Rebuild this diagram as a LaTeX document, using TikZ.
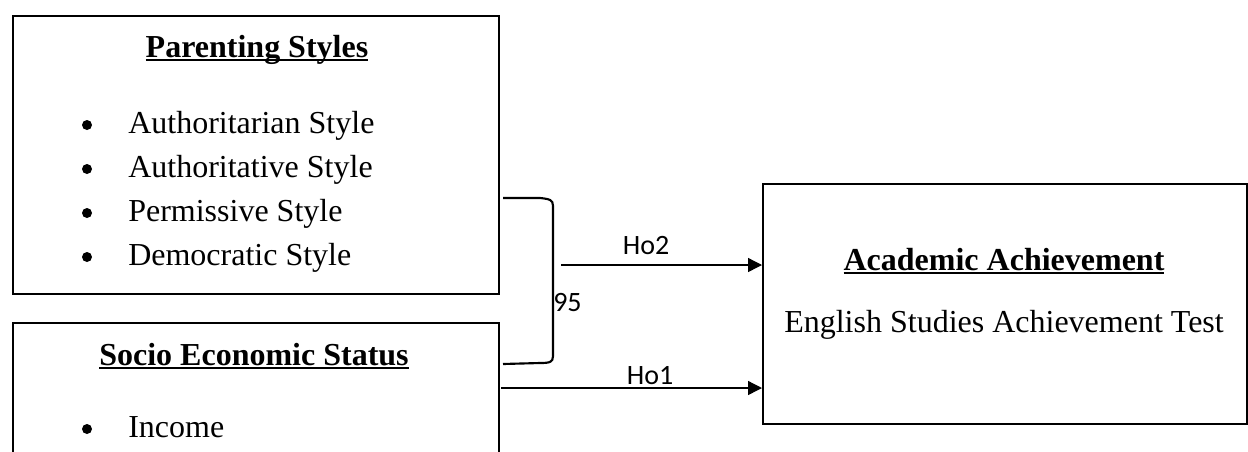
\documentclass[tikz,border=0pt]{standalone}
\usepackage{fontspec}
\setmainfont{Liberation Serif}
\newfontfamily\lblfont{Carlito}
\usetikzlibrary{arrows.meta}
\newcommand{\myul}[1]{\setbox0\hbox{#1}\rlap{\rule[-3pt]{\wd0}{1.3pt}}\box0}
\begin{document}
\begin{tikzpicture}[x=0.75pt,y=-0.75pt,
  boxline/.style={draw=black,line width=1.8pt},
  bigbox/.style={boxline,inner sep=0pt,anchor=north west},
  titletxt/.style={font=\fontsize{24}{28}\selectfont\bfseries,anchor=base,inner sep=0pt},
  itemtxt/.style={font=\fontsize{24}{28}\selectfont,anchor=base west,inner sep=0pt},
  bullet/.style={circle,fill=black,inner sep=0pt,minimum size=7.5pt},
  lbl/.style={font=\lblfont\fontsize{21}{25}\selectfont,anchor=base,inner sep=0pt},
  conn/.style={line width=1pt,-{Triangle[length=10.5pt,width=10.5pt]}},
  brace/.style={line width=1.6pt}]
\useasboundingbox (0,0) rectangle (1248,451);

% Parenting styles box
\node[bigbox,minimum width=364.5pt,minimum height=208.5pt] (ps) at (12,15) {};
\node[titletxt] (pst) at (257,57) {\myul{Parenting Styles}};
\node[bullet] (b1) at (87,125) {};
\node[itemtxt] (i1) at (128,133) {Authoritarian Style};
\node[bullet] (b2) at (87,169) {};
\node[itemtxt] (i2) at (128,177) {Authoritative Style};
\node[bullet] (b3) at (87,213) {};
\node[itemtxt] (i3) at (128,221) {Permissive Style};
\node[bullet] (b4) at (87,257) {};
\node[itemtxt] (i4) at (128,265) {Democratic Style};

% Socio economic status box (cut at bottom)
\node[bigbox,minimum width=364.5pt,minimum height=150pt] (ses) at (12,322) {};
\node[titletxt] (sest) at (254,365) {\myul{Socio Economic Status}};
\node[bullet] (b5) at (87,429) {};
\node[itemtxt] (i5) at (128,437) {Income};

% Academic achievement box
\node[bigbox,minimum width=363pt,minimum height=180pt] (aa) at (762,183) {};
\node[titletxt] (aat) at (1004,270) {\myul{Academic Achievement}};
\node[itemtxt,anchor=base] (aas) at (1004,332) {English Studies Achievement Test};

% bracket
\coordinate (bt) at (503,198);
\coordinate (bb) at (503,364);
\draw[brace] (bt) -- (540,198) .. controls (550,199) and (553,200) .. (553,206)
  -- (553,356) .. controls (553,362) and (550,363) .. (540,363) -- (bb);
\node[lbl,anchor=base west] (n95) at (553,311) {95};

% arrows
\coordinate (s2) at (561,265);
\coordinate (s1) at (501,388);
\draw[conn] (s2) -- (s2 -| aa.west);
\draw[conn] (s1) -- (s1 -| aa.west);
\node[lbl] (ho2) at (646,254) {Ho2};
\node[lbl] (ho1) at (650,384) {Ho1};
\end{tikzpicture}
\end{document}
